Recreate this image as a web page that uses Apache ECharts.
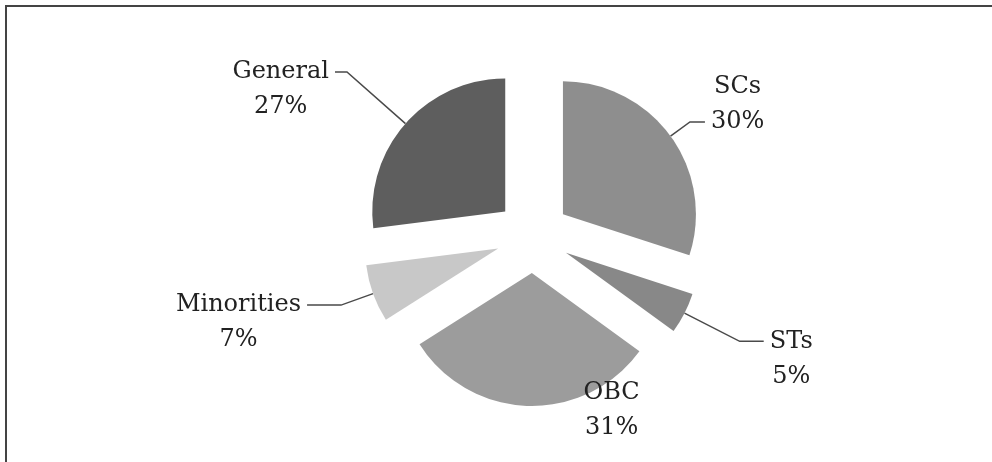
<!DOCTYPE html>
<html><head><meta charset="utf-8">
<script src="https://cdn.jsdelivr.net/npm/echarts@6/dist/echarts.min.js"></script>
<style>html,body{margin:0;padding:0;background:#fff}#c{width:992px;height:462px}</style>
</head><body><div id="c"></div>
<script>
const categories = ['SCs', 'STs', 'OBC', 'Minorities', 'General'];
const values = [30, 5, 31, 7, 27];
const colors = ['#8e8e8e', '#888888', '#9c9c9c', '#c8c8c8', '#5e5e5e'];

// leader-line styling per slice (styles, not data)
const style = {
  len:  [24, 62, 1, 34, 78],
  len2: [15, 24, 1, 34, 12],
  anchor: [1, 0, -1, 0, 0],   // which text line sits at the leader line end (-1: no line)
  lineH: 35,
  gap: 6
};

const chart = echarts.init(document.getElementById('c'), null, {renderer: 'canvas'});
const data = categories.map((name, i) => ({
  name: name,
  value: values[i],
  selected: true,
  itemStyle: {color: colors[i]},
  labelLine: {show: style.anchor[i] >= 0, length: style.len[i], length2: style.len2[i]}
}));

chart.setOption({
  backgroundColor: '#ffffff',
  animation: false,
  graphic: [{
    type: 'polyline',
    shape: {points: [[6, 462], [6, 6], [992, 6]]},
    style: {stroke: '#444', lineWidth: 2, fill: null},
    silent: true
  }],
  series: [{
    type: 'pie',
    center: [533, 236],
    radius: [0, 133],
    startAngle: 90,
    clockwise: true,
    selectedMode: 'multiple',
    selectedOffset: 37,
    emphasis: {disabled: true},
    avoidLabelOverlap: false,
    label: {
      show: true,
      position: 'outside',
      formatter: '{b}\n{d}%',
      fontFamily: 'DejaVu Serif',
      fontSize: 24,
      lineHeight: style.lineH,
      color: '#222'
    },
    labelLine: {lineStyle: {color: '#4a4a4a', width: 1.5}, smooth: false},
    labelLayout: function (p) {
      const i = p.dataIndex;
      const lr = p.labelRect;
      const pts = p.labelLinePoints;
      if (!pts) return {};
      const right = p.align === 'left';
      const anchorX = right ? lr.x : lr.x + lr.width;
      const anchorY = lr.y + lr.height / 2;
      let cx, cy;
      if (style.anchor[i] < 0) {
        cx = pts[0][0] + 84;
        cy = pts[0][1] + 4;
      } else {
        const end = pts[2];
        cx = right ? end[0] + style.gap + lr.width / 2 : end[0] - style.gap - lr.width / 2;
        cy = end[1] + (style.anchor[i] === 0 ? style.lineH / 2 : -style.lineH / 2);
      }
      return {dx: cx - anchorX, dy: cy - anchorY, align: 'center'};
    },
    data: data
  }]
});
</script>
</body></html>
